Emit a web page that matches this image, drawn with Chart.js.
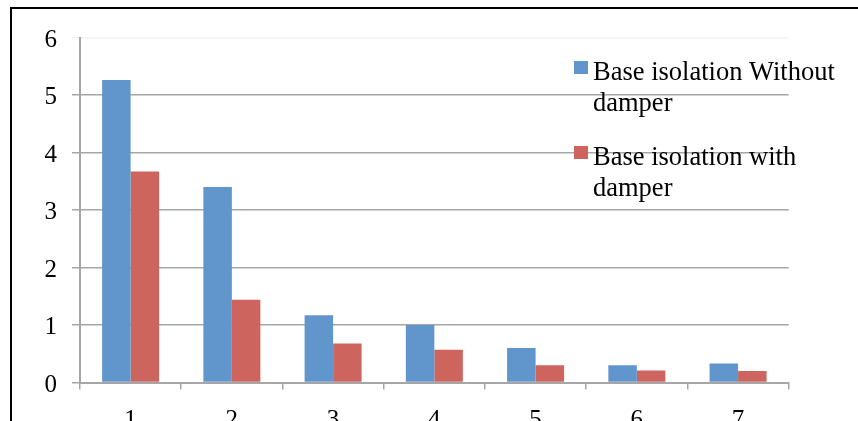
<!DOCTYPE html>
<html>
<head>
<meta charset="utf-8">
<script src="https://cdn.jsdelivr.net/npm/chart.js@4/dist/chart.umd.min.js"></script>
<style>
  html, body { margin: 0; padding: 0; background: #ffffff; }
  #wrap { width: 858px; height: 421px; position: relative; }
</style>
</head>
<body>
<div id="wrap"><canvas id="c" width="858" height="421"></canvas></div>
<script>
const categories = ['1', '2', '3', '4', '5', '6', '7'];
const seriesNames = ['Base isolation Without damper', 'Base isolation with damper'];
const legendLines = [['Base isolation Without', 'damper'], ['Base isolation with', 'damper']];
const withoutDamper = [5.26, 3.40, 1.17, 1.00, 0.60, 0.30, 0.33];
const withDamper = [3.67, 1.44, 0.68, 0.57, 0.30, 0.21, 0.20];
const yMin = 0, yMax = 6, yStep = 1;

const BLUE = '#6096cb';
const RED = '#cd655e';
const GRID = '#a6a6a6';
const SERIF = "'Liberation Serif', 'Times New Roman', serif";

const framePlugin = {
  id: 'frame',
  beforeDraw(chart) {
    const ctx = chart.ctx;
    ctx.save();
    ctx.fillStyle = '#ffffff';
    ctx.fillRect(0, 0, chart.width, chart.height);
    ctx.strokeStyle = '#000000';
    ctx.lineWidth = 2;
    ctx.beginPath();
    ctx.moveTo(11, 421);
    ctx.lineTo(11, 8);
    ctx.lineTo(858, 8);
    ctx.stroke();
    ctx.restore();
  }
};

const legendPlugin = {
  id: 'wrappedLegend',
  afterDraw(chart) {
    const ctx = chart.ctx;
    ctx.save();
    ctx.font = '26.5px ' + SERIF;
    ctx.textBaseline = 'alphabetic';
    ctx.textAlign = 'left';
    const tops = [61, 146];
    chart.data.datasets.forEach((ds, i) => {
      const sy = tops[i];
      ctx.fillStyle = ds.backgroundColor;
      ctx.fillRect(574, sy, 14, 13);
      ctx.fillStyle = '#000000';
      const lines = legendLines[i];
      lines.forEach((ln, j) => {
        ctx.fillText(ln, 593, sy + 18.5 + j * 31.5);
      });
    });
    ctx.restore();
  }
};

new Chart(document.getElementById('c'), {
  type: 'bar',
  data: {
    labels: categories,
    datasets: [
      { label: seriesNames[0], data: withoutDamper, backgroundColor: BLUE,
        categoryPercentage: 0.563, barPercentage: 1.0 },
      { label: seriesNames[1], data: withDamper, backgroundColor: RED,
        categoryPercentage: 0.563, barPercentage: 1.0 }
    ]
  },
  options: {
    responsive: false,
    animation: false,
    devicePixelRatio: 1,
    layout: { padding: { top: 37.5, right: 69.3, left: 0, bottom: 0 } },
    plugins: {
      legend: { display: false },
      tooltip: { enabled: false },
      title: { display: false }
    },
    scales: {
      x: {
        grid: {
          offset: true,
          drawOnChartArea: false,
          drawTicks: true,
          tickLength: 7,
          color: GRID,
          lineWidth: 1.5
        },
        border: { color: GRID, width: 2 },
        ticks: {
          color: '#000000',
          font: { family: SERIF, size: 25 },
          padding: 16,
          maxRotation: 0
        },
        afterFit(scale) { scale.height = 421 - 382.5; }
      },
      y: {
        min: yMin,
        max: yMax,
        ticks: {
          stepSize: yStep,
          color: '#000000',
          font: { family: SERIF, size: 25 },
          padding: 15,
          labelOffset: 2.5
        },
        grid: {
          tickLength: 8,
          lineWidth: 1.5,
          color: (c) => (c.tick && c.tick.value === yMax) ? '#f2f2f2' : GRID
        },
        border: { color: GRID, width: 2 },
        afterFit(scale) { scale.width = 80; }
      }
    }
  },
  plugins: [framePlugin, legendPlugin]
});
</script>
</body>
</html>
